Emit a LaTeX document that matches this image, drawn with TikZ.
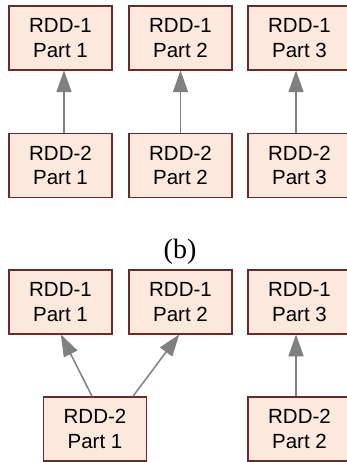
\documentclass[tikz,border=0pt]{standalone}
\usepackage{fontspec}
\setmainfont{Liberation Sans}
\newfontfamily\serifcap{Liberation Serif}
\usetikzlibrary{arrows.meta,calc}
\definecolor{partfill}{HTML}{FCE9DD}
\definecolor{partedge}{HTML}{6B2A2A}
\definecolor{depgray}{HTML}{808080}
\tikzset{
  part/.style={draw=partedge, fill=partfill, line width=1.5pt,
    minimum width=103pt, minimum height=64pt, inner sep=0pt,
    align=center, font=\fontsize{20.5}{24.5}\selectfont},
  dep/.style={draw=depgray, line width=1.5pt,
    -{Triangle[length=22pt,width=15pt]}, shorten >=-0.5pt}
}
\begin{document}
\begin{tikzpicture}[x=1pt,y=-1pt]
\useasboundingbox (0,0) rectangle (347,462);
\clip (0,0) rectangle (347,462);
% narrow dependencies
\node[part] (a1) at (60.5,38) {RDD-1\\Part 1};
\node[part] (a2) at (180.5,38) {RDD-1\\Part 2};
\node[part] (a3) at (299.5,38) {RDD-1\\Part 3};
\node[part] (b1) at (60.5,165.5) {RDD-2\\Part 1};
\node[part] (b2) at (180.5,165.5) {RDD-2\\Part 2};
\node[part] (b3) at (299.5,165.5) {RDD-2\\Part 3};
\draw[dep] ($(b1.north)+(3.5,0)$) -- ($(a1.south)+(3.5,0)$);
\draw[dep] (b2.north) -- (a2.south);
\draw[dep] ($(b3.north)+(-3.5,0)$) -- ($(a3.south)+(-3.5,0)$);
% caption
\node[font=\serifcap\fontsize{28}{30}\selectfont, inner sep=0pt] (cap) at (180,252) {(b)};
% wide dependencies
\node[part] (c1) at (60.5,302) {RDD-1\\Part 1};
\node[part] (c2) at (180.5,302) {RDD-1\\Part 2};
\node[part] (c3) at (299.5,302) {RDD-1\\Part 3};
\node[part] (d1) at (95,429) {RDD-2\\Part 1};
\node[part] (d2) at (299.5,429) {RDD-2\\Part 2};
\draw[dep] ($(d1.north)+(-3,0)$) -- ($(c1.south)+(0.5,0)$);
\draw[dep] ($(d1.north)+(38,0)$) -- ($(c2.south)+(-1.5,0)$);
\draw[dep] ($(d2.north)+(-3.5,0)$) -- ($(c3.south)+(-3.5,0)$);
\end{tikzpicture}
\end{document}
